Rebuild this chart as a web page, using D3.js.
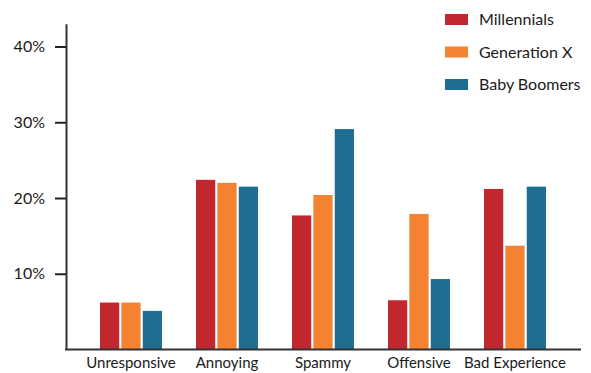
<!DOCTYPE html>
<html><head><meta charset="utf-8">
<script src="https://cdn.jsdelivr.net/npm/d3@7"></script>
<style>
html,body{margin:0;padding:0;background:#fff;}
svg{display:block;font-family:Lato, "Noto Sans", sans-serif;}
</style></head>
<body><svg id="c" width="591" height="373"></svg>
<script>
const categories = ["Unresponsive","Annoying","Spammy","Offensive","Bad Experience"];
const seriesNames = ["Millennials","Generation X","Baby Boomers"];
const millennials = [0.062,0.224,0.177,0.065,0.212];
const generationX = [0.062,0.220,0.204,0.179,0.137];
const babyBoomers = [0.051,0.215,0.291,0.093,0.215];
const tickValues = [0.1,0.2,0.3,0.4];
const colors = ["#C1272E","#F58233","#1D6E91"];

const seriesValues = [millennials, generationX, babyBoomers];
const svg = d3.select("#c");

const y = d3.scaleLinear().domain([0,0.43]).range([349.5,23.8]);
const x0 = d3.scaleBand().domain(categories).range([83,563]).paddingInner(0.354).paddingOuter(0.177);
const x1 = d3.scaleBand().domain(seriesNames).range([0,x0.bandwidth()]).paddingInner(0.1);
const color = d3.scaleOrdinal().domain(seriesNames).range(colors);

// bars
const groups = svg.append("g").selectAll("g").data(categories).join("g")
  .attr("transform", d => `translate(${x0(d)},0)`);
groups.selectAll("rect").data((d,i) => seriesNames.map((s,j) => ({s, v: seriesValues[j][i]})))
  .join("rect")
  .attr("x", d => x1(d.s))
  .attr("width", x1.bandwidth())
  .attr("y", d => y(d.v))
  .attr("height", d => y(0) - y(d.v))
  .attr("fill", d => color(d.s));

// y axis
const yAxis = svg.append("g").attr("transform","translate(66,0)")
  .call(d3.axisLeft(y).tickValues(tickValues).tickSize(11).tickSizeOuter(0).tickPadding(10).tickFormat(d3.format(".0%")));
yAxis.select(".domain").attr("stroke","#333").attr("stroke-width",2);
yAxis.selectAll(".tick line").attr("stroke","#222").attr("stroke-width",2);
yAxis.selectAll(".tick text").attr("fill","#1a1a1a").attr("font-size",16).attr("font-family","Lato, sans-serif");

// x axis
const xAxis = svg.append("g").attr("transform",`translate(0,${y(0)})`)
  .call(d3.axisBottom(x0).tickSize(0).tickPadding(8));
xAxis.select(".domain").attr("d", "M65,0H581").attr("stroke","#333").attr("stroke-width",2);
xAxis.selectAll(".tick text").attr("fill","#1a1a1a").attr("font-size",15).attr("font-family","Lato, sans-serif");

// legend
const legend = svg.append("g").selectAll("g").data(seriesNames).join("g")
  .attr("transform",(d,i)=>`translate(445,${19.5 + i*32.5})`);
legend.append("rect").attr("x",0).attr("y",-5.5).attr("width",23).attr("height",11).attr("fill",d=>color(d));
legend.append("text").attr("x",34).attr("y",0).attr("dy","0.36em")
  .attr("font-size",16).attr("fill","#1a1a1a").text(d=>d);
</script></body></html>
